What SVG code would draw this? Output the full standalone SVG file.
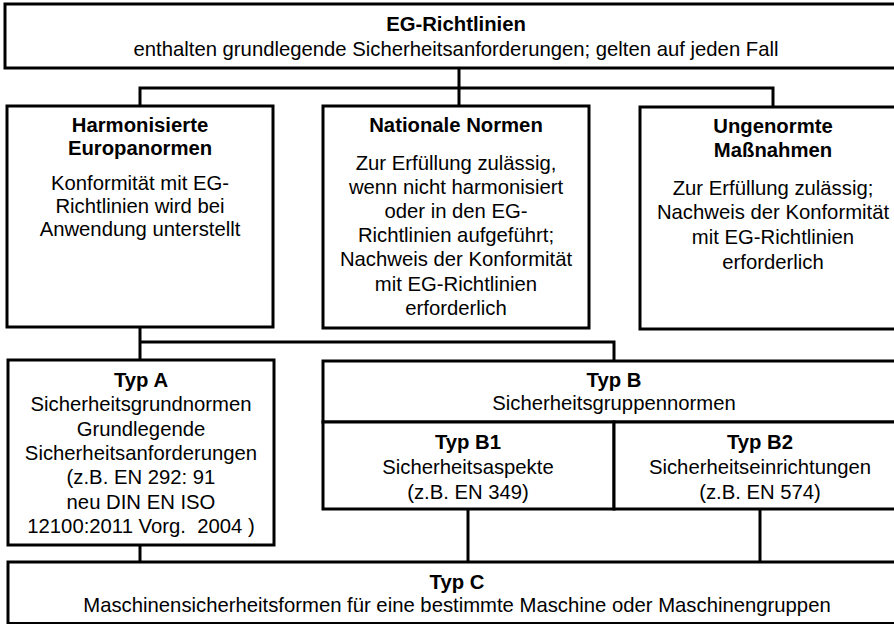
<svg xmlns="http://www.w3.org/2000/svg" width="894" height="624" viewBox="0 0 894 624">
<style>
rect.box{fill:#fff;stroke:#000;stroke-width:3}
.conn path{fill:none;stroke:#000;stroke-width:3}
text{font-family:"Liberation Sans",Arial,sans-serif;font-size:20.3px;fill:#000;text-anchor:middle}
.b{font-weight:bold}
</style>
<rect width="894" height="624" fill="#fff"/>
<g class="conn" id="connectors">
<path d="M459 68V88M140 108V88H773V108M459 88V108"/>
<path d="M140 327V561M140 342H614V361"/>
<path d="M468 509V562M760 509V562"/>
</g>
<g id="eg">
<rect class="box" x="5" y="4" width="905" height="64"/>
<text class="b" x="456" y="31">EG-Richtlinien</text>
<text x="456" y="56">enthalten grundlegende Sicherheitsanforderungen; gelten auf jeden Fall</text>
</g>
<g id="harmonisiert">
<rect class="box" x="7" y="106" width="266" height="221"/>
<text class="b" x="140" y="132">Harmonisierte</text>
<text class="b" x="140" y="155">Europanormen</text>
<text x="140" y="190">Konformität mit EG-</text>
<text x="140" y="213">Richtlinien wird bei</text>
<text x="140" y="236">Anwendung unterstellt</text>
</g>
<g id="national">
<rect class="box" x="323" y="106" width="266" height="222"/>
<text class="b" x="456" y="132">Nationale Normen</text>
<text x="456" y="170">Zur Erfüllung zulässig,</text>
<text x="456" y="194">wenn nicht harmonisiert</text>
<text x="456" y="218">oder in den EG-</text>
<text x="456" y="242">Richtlinien aufgeführt;</text>
<text x="456" y="266">Nachweis der Konformität</text>
<text x="456" y="291">mit EG-Richtlinien</text>
<text x="456" y="315">erforderlich</text>
</g>
<g id="ungenormt">
<rect class="box" x="640" y="107" width="270" height="222"/>
<text class="b" x="773" y="133">Ungenormte</text>
<text class="b" x="773" y="157">Maßnahmen</text>
<text x="773" y="195">Zur Erfüllung zulässig;</text>
<text x="773" y="219">Nachweis der Konformität</text>
<text x="773" y="244">mit EG-Richtlinien</text>
<text x="773" y="269">erforderlich</text>
</g>
<g id="typA">
<rect class="box" x="8" y="360" width="266" height="185"/>
<text class="b" x="141" y="387">Typ A</text>
<text x="141" y="411">Sicherheitsgrundnormen</text>
<text x="141" y="436">Grundlegende</text>
<text x="141" y="460">Sicherheitsanforderungen</text>
<text x="141" y="484">(z.B. EN 292: 91</text>
<text x="141" y="509">neu DIN EN ISO</text>
<text x="141" y="533" xml:space="preserve">12100:2011 Vorg.  2004 )</text>
</g>
<g id="typB">
<rect class="box" x="323" y="361" width="590" height="61"/>
<text class="b" x="614" y="387">Typ B</text>
<text x="614" y="410">Sicherheitsgruppennormen</text>
</g>
<g id="typB1">
<rect class="box" x="323" y="422" width="291" height="87"/>
<text class="b" x="468" y="449">Typ B1</text>
<text x="468" y="474">Sicherheitsaspekte</text>
<text x="468" y="499">(z.B. EN 349)</text>
</g>
<g id="typB2">
<rect class="box" x="614" y="422" width="299" height="87"/>
<text class="b" x="760" y="449">Typ B2</text>
<text x="760" y="474">Sicherheitseinrichtungen</text>
<text x="760" y="499">(z.B. EN 574)</text>
</g>
<g id="typC">
<rect class="box" x="8" y="562" width="905" height="61.5"/>
<text class="b" x="457" y="589">Typ C</text>
<text x="457" y="612">Maschinensicherheitsformen für eine bestimmte Maschine oder Maschinengruppen</text>
</g>
</svg>
